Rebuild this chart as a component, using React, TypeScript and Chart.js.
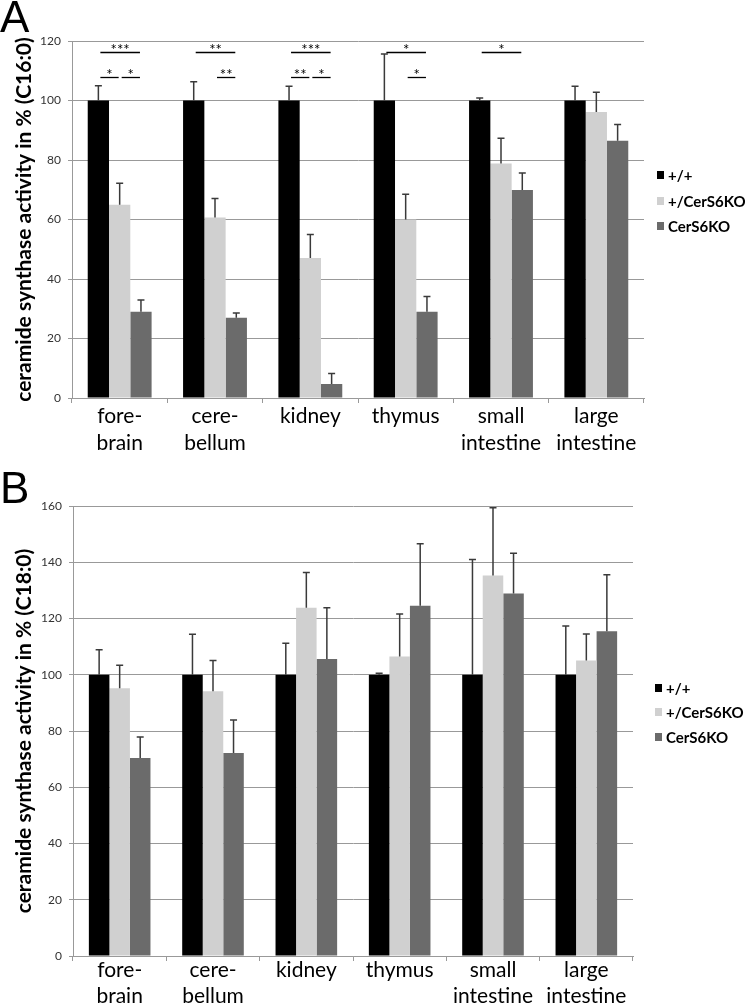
import React, { useEffect, useRef } from "react";
import { Chart, registerables } from "chart.js";

Chart.register(...registerables);

const FONT = 'Lato, "Open Sans", "DejaVu Sans", sans-serif';

// ---------- data ----------
const categories: (string | string[])[] = [
  ["fore-", "brain"],
  ["cere-", "bellum"],
  "kidney",
  "thymus",
  ["small", "intestine"],
  ["large", "intestine"],
];
const seriesNames = ["+/+", "+/CerS6KO", "CerS6KO"];
const seriesColors = ["#000000", "#d0d0d0", "#6b6b6b"];

// Panel A (C16:0)
const wtA = [100, 100, 100, 100, 100, 100];
const hetA = [65, 60.7, 47.1, 60, 78.8, 96.1];
const koA = [29, 27, 4.7, 29, 69.9, 86.5];
const wtErrA = [5, 6.3, 4.8, 15.6, 0.8, 4.8];
const hetErrA = [7.2, 6.4, 7.9, 8.5, 8.5, 6.7];
const koErrA = [3.9, 1.6, 3.5, 5.1, 5.7, 5.4];
const yTicksA = { min: 0, max: 120, step: 20 };

// significance marks in panel A: [category, fromSeries, toSeries, level (value), label]
const sigA: [number, number, number, number, string][] = [
  [0, 0, 2, 116.3, "***"],
  [0, 0, 1, 107.9, "*"],
  [0, 1, 2, 107.9, "*"],
  [1, 0, 2, 116.3, "**"],
  [1, 1, 2, 107.9, "**"],
  [2, 0, 2, 116.3, "***"],
  [2, 0, 1, 107.9, "**"],
  [2, 1, 2, 107.9, "*"],
  [3, 0, 2, 116.3, "*"],
  [3, 1, 2, 107.9, "*"],
  [4, 0, 2, 116.3, "*"],
];

// Panel B (C18:0)
const wtB = [100, 100, 100, 100, 100, 100];
const hetB = [95.2, 94.1, 123.8, 106.5, 135.3, 105.1];
const koB = [70.4, 72.2, 105.6, 124.5, 128.9, 115.5];
const wtErrB = [8.9, 14.4, 11.2, 0.5, 41.0, 17.3];
const hetErrB = [8.2, 11.0, 12.6, 15.1, 24.1, 9.4];
const koErrB = [7.5, 11.7, 18.2, 22.1, 14.3, 20.1];
const yTicksB = { min: 0, max: 160, step: 20 };

type PanelProps = {
  values: number[][];
  errors: number[][];
  sig: [number, number, number, number, string][];
  yTicks: { min: number; max: number; step: number };
  yTitle: string;
  width: number;
  height: number;
  padTop: number;
  padRight: number;
  yAxisWidth: number;
  xAxisHeight: number;
  xPad: number;
  xLineHeight: number;
  catPct: number;
  legendX: number;
  legendY: number[];
};

function Panel(p: PanelProps) {
  const ref = useRef<HTMLCanvasElement | null>(null);
  useEffect(() => {
    if (!ref.current) return;
    const overlay = {
      id: "overlay",
      afterDatasetsDraw(chart: any) {
        const ctx = chart.ctx;
        const ys = chart.scales.y;
        ctx.save();
        // error bars (upper only)
        ctx.strokeStyle = "#3a3a3a";
        ctx.lineWidth = 1.5;
        p.errors.forEach((arr, di) => {
          const meta = chart.getDatasetMeta(di);
          meta.data.forEach((bar: any, i: number) => {
            const v = p.values[di][i];
            const x = bar.x;
            const y0 = ys.getPixelForValue(v);
            const y1 = ys.getPixelForValue(v + arr[i]);
            ctx.beginPath();
            ctx.moveTo(x, y0);
            ctx.lineTo(x, y1);
            ctx.moveTo(x - 3.5, y1);
            ctx.lineTo(x + 3.5, y1);
            ctx.stroke();
          });
        });
        // significance lines
        ctx.strokeStyle = "#000";
        ctx.lineWidth = 1.3;
        ctx.fillStyle = "#000";
        ctx.font = `15px ${FONT}`;
        ctx.textAlign = "center";
        ctx.textBaseline = "alphabetic";
        p.sig.forEach(([cat, from, to, level, label]) => {
          const x1 = chart.getDatasetMeta(from).data[cat].x + 2;
          const x2 = chart.getDatasetMeta(to).data[cat].x - 1;
          const yy = Math.round(ys.getPixelForValue(level)) + 0.5;
          ctx.beginPath();
          ctx.moveTo(x1, yy);
          ctx.lineTo(x2, yy);
          ctx.stroke();
          ctx.fillText(label, (x1 + x2) / 2, yy + 2);
        });
        ctx.restore();
      },
      afterDraw(chart: any) {
        const ctx = chart.ctx;
        ctx.save();
        ctx.font = `bold 15px ${FONT}`;
        ctx.textAlign = "left";
        ctx.textBaseline = "middle";
        seriesNames.forEach((name, i) => {
          const cy = p.legendY[i];
          ctx.fillStyle = seriesColors[i];
          ctx.fillRect(p.legendX, cy - 4, 7, 8);
          ctx.fillStyle = "#000";
          ctx.fillText(name, p.legendX + 11, cy + 1);
        });
        ctx.restore();
      },
    };

    const chart = new Chart(ref.current, {
      type: "bar",
      data: {
        labels: categories,
        datasets: seriesNames.map((name, i) => ({
          label: name,
          data: p.values[i],
          backgroundColor: seriesColors[i],
          borderWidth: 0,
          categoryPercentage: p.catPct,
          barPercentage: 1.0,
        })),
      },
      options: {
        responsive: false,
        animation: false,
        devicePixelRatio: 1,
        layout: { padding: { top: p.padTop, right: p.padRight, left: 0, bottom: 0 } },
        plugins: {
          legend: { display: false },
          tooltip: { enabled: false },
        },
        scales: {
          x: {
            grid: {
              drawOnChartArea: false,
              drawTicks: true,
              tickLength: 5,
              color: "#999",
              offset: true,
            },
            border: { color: "#999", width: 1 },
            ticks: {
              color: "#000",
              font: { family: FONT, size: 21, lineHeight: p.xLineHeight },
              padding: p.xPad,
              maxRotation: 0,
              autoSkip: false,
            },
            afterFit: (s: any) => {
              s.height = p.xAxisHeight;
            },
          },
          y: {
            min: p.yTicks.min,
            max: p.yTicks.max,
            ticks: {
              stepSize: p.yTicks.step,
              color: "#333",
              font: { family: FONT, size: 12 },
              padding: 7,
            },
            grid: { color: "#999", tickLength: 4, lineWidth: 1 },
            border: { color: "#999", width: 1 },
            title: {
              display: true,
              text: p.yTitle,
              color: "#000",
              font: { family: FONT, size: 21, weight: "bold" },
              padding: { top: 12, bottom: 0 },
            },
            afterFit: (s: any) => {
              s.width = p.yAxisWidth;
            },
          },
        },
      },
      plugins: [overlay],
    } as any);
    return () => chart.destroy();
  }, []);
  return (
    <canvas
      ref={ref}
      width={p.width}
      height={p.height}
      style={{ width: p.width, height: p.height, display: "block" }}
    />
  );
}

export default function App() {
  const letter: React.CSSProperties = {
    position: "absolute",
    left: 0,
    fontFamily: '"Liberation Sans", Arial, sans-serif',
    fontSize: 44,
    lineHeight: "44px",
    color: "#000",
  };
  return (
    <div style={{ position: "absolute", left: 0, top: 0, width: 745, height: 1006, background: "#fff", overflow: "hidden" }}>
      <div style={{ position: "absolute", left: 0, top: 0 }}>
        <Panel
          values={[wtA, hetA, koA]}
          errors={[wtErrA, hetErrA, koErrA]}
          sig={sigA}
          yTicks={yTicksA}
          yTitle="ceramide synthase activity in % (C16:0)"
          width={745}
          height={470}
          padTop={41}
          padRight={101}
          yAxisWidth={72}
          xAxisHeight={72}
          xPad={0}
          xLineHeight={1.29}
          catPct={0.67}
          legendX={657}
          legendY={[175, 201, 226]}
        />
      </div>
      <div style={{ position: "absolute", left: 0, top: 470 }}>
        <Panel
          values={[wtB, hetB, koB]}
          errors={[wtErrB, hetErrB, koErrB]}
          sig={[]}
          yTicks={yTicksB}
          yTitle="ceramide synthase activity in % (C18:0)"
          width={745}
          height={536}
          padTop={36}
          padRight={112}
          yAxisWidth={73}
          xAxisHeight={50}
          xPad={-3}
          xLineHeight={1.2}
          catPct={0.66}
          legendX={655}
          legendY={[218, 242, 267]}
        />
      </div>
      <div style={{ ...letter, top: -5 }}>A</div>
      <div style={{ ...letter, top: 466 }}>B</div>
    </div>
  );
}
